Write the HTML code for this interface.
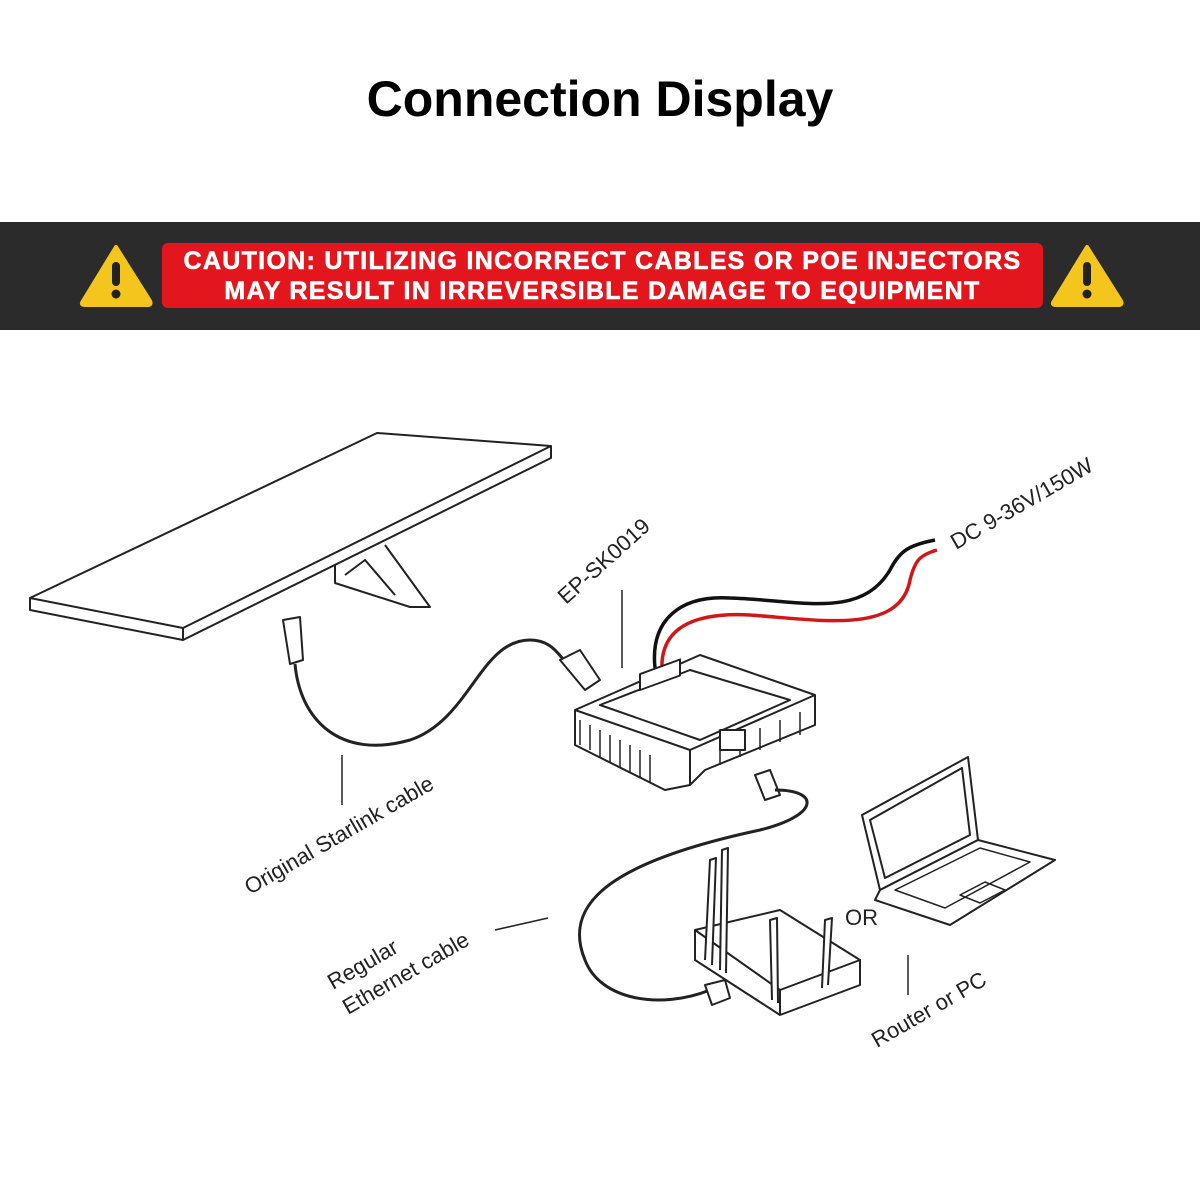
<!DOCTYPE html>
<html><head><meta charset="utf-8"><style>
html,body{margin:0;padding:0;background:#fff;}
body{width:1200px;height:1200px;position:relative;overflow:hidden;font-family:"Liberation Sans",sans-serif;}
.t{position:absolute;left:0;width:1200px;top:70px;text-align:center;font-size:50px;font-weight:bold;color:#000;}
.band{position:absolute;left:0;top:222px;width:1200px;height:108px;background:#2b2b2b;}
.red{position:absolute;left:162px;top:243px;width:881px;height:65px;background:#e3151d;border-radius:6px;color:#fff;font-weight:bold;font-size:25px;text-align:center;line-height:30px;padding-top:3px;box-sizing:border-box;letter-spacing:1.3px;-webkit-text-stroke:0.6px #fff;}
</style></head><body>
<div class="t">Connection Display</div>
<div class="band"></div>
<div class="red">CAUTION: UTILIZING INCORRECT CABLES OR POE INJECTORS<br>MAY RESULT IN IRREVERSIBLE DAMAGE TO EQUIPMENT</div>
<svg width="1200" height="1200" style="position:absolute;left:0;top:0">
<g>
<path d="M116 247 L150 301 Q152 305 147 305 L85 305 Q80 305 83 301 Z" fill="#f4c51c" stroke="#f4c51c" stroke-width="4" stroke-linejoin="round"/>
<rect x="112" y="262" width="8" height="24" rx="4" fill="#222"/><circle cx="116" cy="294" r="4.5" fill="#222"/>
<path d="M1087 247 L1121 301 Q1123 305 1118 305 L1056 305 Q1051 305 1054 301 Z" fill="#f4c51c" stroke="#f4c51c" stroke-width="4" stroke-linejoin="round"/>
<rect x="1083" y="262" width="8" height="24" rx="4" fill="#222"/><circle cx="1087" cy="294" r="4.5" fill="#222"/>
</g>
<g fill="none" stroke="#222" stroke-width="2" stroke-linejoin="round">
<path d="M30 598 L377 433 L551 446 L183 628 Z" fill="#fff"/>
<path d="M30 598 L30 610 L183 640 L551 458 L551 446"/>
<path d="M183 628 L183 640"/>
<path d="M335 565 L335 583 L410 607 L430 607 L385 545"/>
<path d="M345 575 L365 560 L395 595"/>
<path d="M283 620 L300 617 L303 660 L290 664 Z" fill="#fff"/>
<path d="M295 664 C300 720 340 760 410 740 C470 720 480 640 530 640 C555 640 560 660 570 665" stroke-width="3"/>
<path d="M560 660 L580 650 L600 680 L585 690 Z" fill="#fff"/>
<path d="M655 668 C650 620 680 595 730 598 C800 600 860 620 890 570 C900 550 910 545 935 540" stroke="#111" stroke-width="3.5"/>
<path d="M662 670 C660 630 690 612 750 615 C820 620 900 635 910 580 C915 560 920 555 937 550" stroke="#d01818" stroke-width="3.5"/>
<path d="M622 590 L622 668" stroke-width="1.5"/>
<path d="M575 710 L700 655 L815 695 L690 750 Z" fill="#fff"/>
<path d="M575 710 L575 745 L665 790 L690 785 L705 770 L815 725 L815 695"/>
<path d="M690 750 L690 785 M600 705 L690 670 L790 700 L700 740 Z"/>
<path d="M580 720 L580 745 M590 725 L590 750 M600 730 L600 758 M610 735 L610 762 M620 740 L620 768 M630 745 L630 772 M640 750 L640 777 M650 755 L650 782 M720 765 L720 745 M740 757 L740 737 M760 750 L760 728 M780 742 L780 720 M800 735 L800 712" stroke-width="1.5"/>
<rect x="640" y="672" width="40" height="16" fill="#fff" transform="skewY(-20) translate(0,235)"/>
<rect x="720" y="730" width="25" height="20" fill="#fff"/>
<path d="M755 775 L770 770 L780 795 L765 800 Z" fill="#fff"/>
<path d="M775 790 C820 790 820 815 760 830 C620 860 560 900 585 960 C600 1000 660 1010 710 990" stroke-width="3"/>
<path d="M705 985 L725 980 L730 998 L712 1005 Z" fill="#fff"/>
<path d="M495 930 L548 918" stroke-width="1.5"/>
<path d="M342 755 L342 805" stroke-width="1.5"/>
<path d="M695 930 L780 910 L860 960 L780 990 Z" fill="#fff"/>
<path d="M695 930 L695 960 L780 1015 L860 985 L860 960 M780 990 L780 1015"/>
<path d="M705 960 L710 860 L716 858 L712 965 M720 970 L722 850 L728 848 L726 973 M772 1000 L770 920 L777 918 L778 1003 M822 988 L825 920 L832 918 L828 985" fill="#fff"/>
<path d="M908 955 L908 995" stroke-width="1.5"/>
<path d="M862 815 L968 757 L978 840 L880 890 Z" fill="#fff"/>
<path d="M870 820 L962 768 L970 835 L885 878 Z"/>
<path d="M880 890 L978 840 L1055 860 L950 925 L875 900 Z" fill="#fff"/>
<path d="M895 890 L980 848 L1030 862 L945 908 Z" stroke-width="1.5"/>
<path d="M960 895 L985 882 L1005 890 L980 903 Z" stroke-width="1.5"/>
</g>
<g font-family="Liberation Sans, sans-serif" font-size="22" fill="#222">
<text transform="translate(566,605) rotate(-42)">EP-SK0019</text>
<text transform="translate(956,550) rotate(-30)">DC 9-36V/150W</text>
<text transform="translate(250,895) rotate(-30)">Original Starlink cable</text>
<text transform="translate(333,990) rotate(-30)">Regular</text>
<text transform="translate(348,1015) rotate(-30)">Ethernet cable</text>
<text x="845" y="925">OR</text>
<text transform="translate(877,1048) rotate(-30)">Router or PC</text>
</g>
</svg>
</body></html>
